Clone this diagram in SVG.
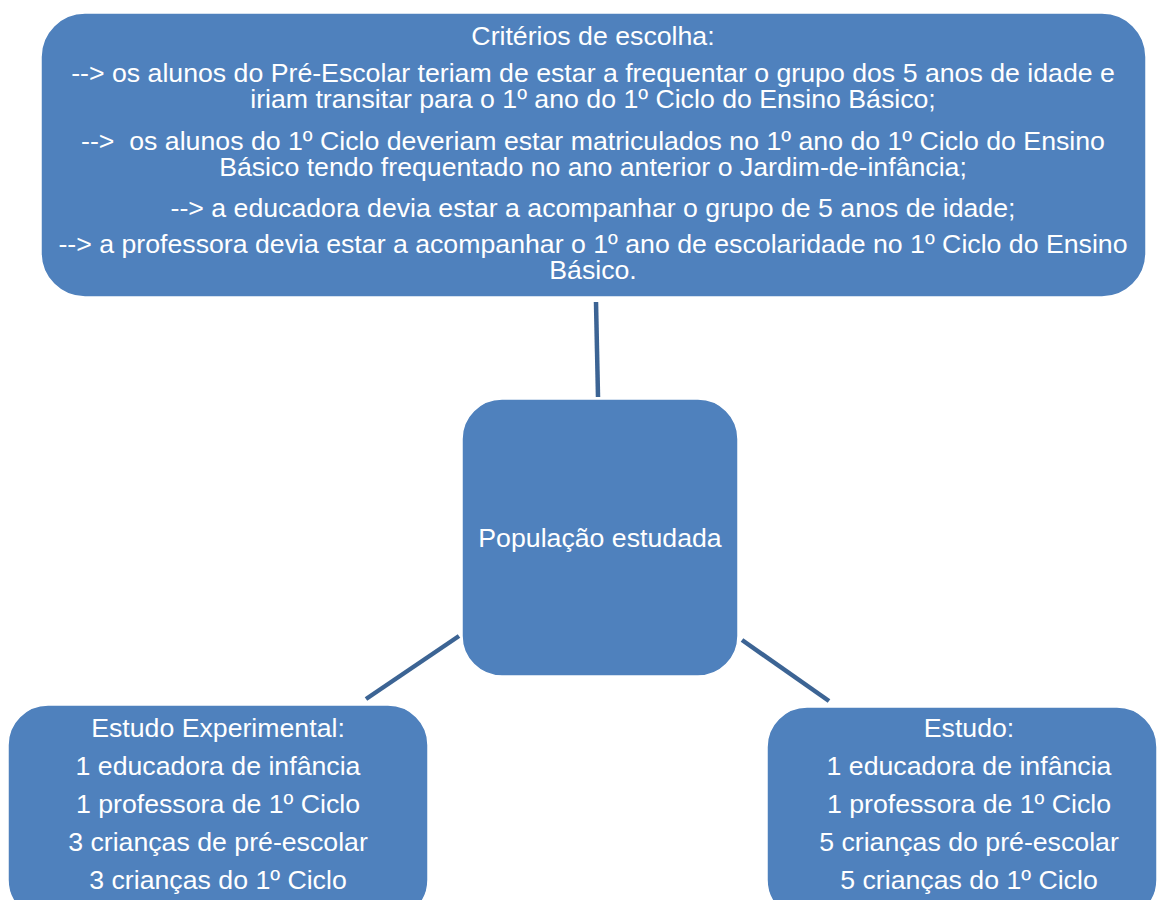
<svg xmlns="http://www.w3.org/2000/svg" width="1159" height="900" viewBox="0 0 1159 900">
<style>
.box{fill:#4F81BD;stroke:#ffffff;stroke-width:1.5}
.t{font-family:"Liberation Sans",Arial,sans-serif;font-size:26.7px;fill:#ffffff;text-anchor:middle}
.c{stroke:#3C6494;stroke-width:4.5;fill:none}
</style>
<rect width="1159" height="900" fill="#ffffff"/>
<g id="connectors">
<line class="c" x1="596" y1="302" x2="598" y2="397"/>
<line class="c" x1="459" y1="636" x2="366" y2="699"/>
<line class="c" x1="742" y1="640" x2="829" y2="701"/>
</g>
<g id="criterios">
<rect class="box" x="41" y="13" width="1105" height="284" rx="44" ry="44"/>
<text class="t" x="593" y="45">Critérios de escolha:</text>
<text class="t"><tspan x="593" y="82">--&gt; os alunos do Pré-Escolar teriam de estar a frequentar o grupo dos 5 anos de idade e</tspan><tspan x="593" y="108">iriam transitar para o 1º ano do 1º Ciclo do Ensino Básico;</tspan></text>
<text class="t" xml:space="preserve"><tspan x="593" y="150">-->  os alunos do 1º Ciclo deveriam estar matriculados no 1º ano do 1º Ciclo do Ensino</tspan><tspan x="593" y="176">Básico tendo frequentado no ano anterior o Jardim-de-infância;</tspan></text>
<text class="t" x="593" y="217">--&gt; a educadora devia estar a acompanhar o grupo de 5 anos de idade;</text>
<text class="t"><tspan x="593" y="253">--&gt; a professora devia estar a acompanhar o 1º ano de escolaridade no 1º Ciclo do Ensino</tspan><tspan x="593" y="279">Básico.</tspan></text>
</g>
<g id="populacao">
<rect class="box" x="462" y="399" width="276" height="277" rx="40" ry="40"/>
<text class="t" x="600" y="547">População estudada</text>
</g>
<g id="experimental">
<rect class="box" x="8" y="705" width="420" height="215" rx="40" ry="40"/>
<text class="t" x="218" y="737">Estudo Experimental:</text>
<text class="t" x="218" y="775">1 educadora de infância</text>
<text class="t" x="218" y="813">1 professora de 1º Ciclo</text>
<text class="t" x="218" y="851">3 crianças de pré-escolar</text>
<text class="t" x="218" y="889">3 crianças do 1º Ciclo</text>
</g>
<g id="estudo">
<rect class="box" x="767" y="707" width="390" height="213" rx="40" ry="40"/>
<text class="t" x="969" y="737">Estudo:</text>
<text class="t" x="969" y="775">1 educadora de infância</text>
<text class="t" x="969" y="813">1 professora de 1º Ciclo</text>
<text class="t" x="969" y="851">5 crianças do pré-escolar</text>
<text class="t" x="969" y="889">5 crianças do 1º Ciclo</text>
</g>
</svg>
